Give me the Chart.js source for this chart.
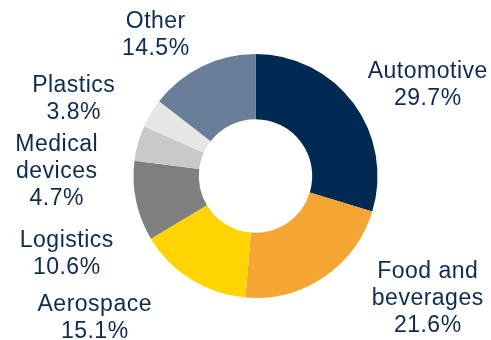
<!DOCTYPE html>
<html>
<head>
<meta charset="utf-8">
<script src="https://cdn.jsdelivr.net/npm/chart.js@4/dist/chart.umd.min.js"></script>
<style>
  html, body { margin: 0; padding: 0; background: #fff; }
  #wrap { width: 491px; height: 340px; position: relative; }
</style>
</head>
<body>
<div id="wrap"><canvas id="myChart" width="491" height="340"></canvas></div>
<script>
const categories = ['Automotive', 'Food and beverages', 'Aerospace', 'Logistics', 'Medical devices', 'Plastics', 'Other']
const shares = [29.7, 21.6, 15.1, 10.6, 4.7, 3.8, 14.5]
// how each label is broken into lines
const labelLines = [['Automotive'], ['Food and', 'beverages'], ['Aerospace'], ['Logistics'], ['Medical', 'devices'], ['Plastics'], ['Other']]
const colors = ['#002A52', '#F4A532', '#FFD400', '#7F7F7F', '#C9C9C9', '#E6E6E6', '#687E99']

// label anchor (first baseline) offsets from the doughnut centre
const labelOffsets = [[172, -98], [172, 102], [-161, 135], [-189, 71], [-199, -25], [-182, -84], [-100, -148]]

const outsideLabels = {
  id: 'outsideLabels',
  afterDraw(chart) {
    const ctx = chart.ctx
    const arc = chart.getDatasetMeta(0).data[0]
    const cx = arc.x, cy = arc.y
    ctx.save()
    ctx.font = '23px "Liberation Sans", Arial, sans-serif'
    ctx.letterSpacing = '0.5px'
    ctx.fillStyle = '#0D2B4F'
    ctx.textAlign = 'center'
    ctx.textBaseline = 'alphabetic'
    chart.data.labels.forEach((lbl, i) => {
      const lines = labelLines[i].concat([shares[i].toFixed(1) + '%'])
      const x = cx + labelOffsets[i][0]
      let y = cy + labelOffsets[i][1]
      lines.forEach(t => {
        ctx.fillText(t, x + 0.25, y)
        y += 26.8
      })
    })
    ctx.restore()
  }
}

const aChart = document.getElementById('myChart').getContext('2d')

const myChart = new Chart(aChart, {
  type: 'doughnut',
  data: {
    labels: categories,
    datasets: [{
      data: shares,
      backgroundColor: colors,
      borderWidth: 0
    }]
  },
  options: {
    responsive: false,
    animation: false,
    cutout: '46.5%',
    layout: {
      padding: { left: 133, right: 113, top: 54, bottom: 42 }
    },
    plugins: {
      legend: { display: false },
      tooltip: { enabled: false }
    }
  },
  plugins: [outsideLabels]
});
</script>
</body>
</html>
